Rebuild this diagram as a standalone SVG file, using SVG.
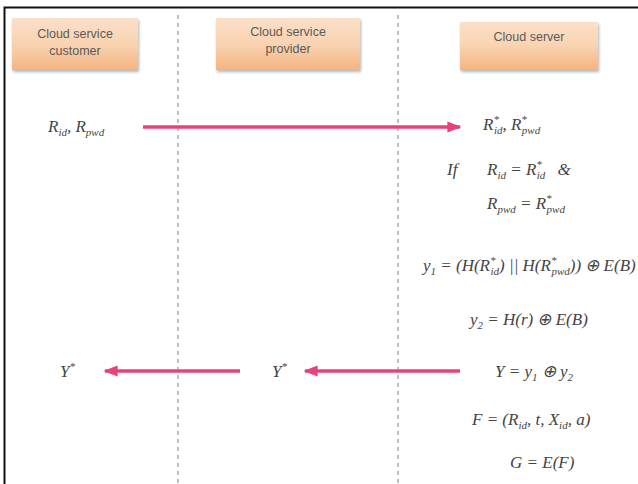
<svg xmlns="http://www.w3.org/2000/svg" width="638" height="484" viewBox="0 0 638 484">
<defs>
<linearGradient id="hdr" x1="0" y1="0" x2="0" y2="1">
<stop offset="0" stop-color="#fbe0c9"/>
<stop offset="0.5" stop-color="#f9d3b1"/>
<stop offset="1" stop-color="#f4b481"/>
</linearGradient>
<filter id="sh" x="-10%" y="-10%" width="130%" height="140%">
<feGaussianBlur in="SourceAlpha" stdDeviation="1.5"/>
<feOffset dx="1" dy="2" result="b"/>
<feComponentTransfer><feFuncA type="linear" slope="0.3"/></feComponentTransfer>
<feMerge><feMergeNode/><feMergeNode in="SourceGraphic"/></feMerge>
</filter>
<marker id="ah" viewBox="0 0 10 10" refX="9" refY="5" markerWidth="4" markerHeight="3.2" orient="auto" preserveAspectRatio="none">
<path d="M0,0 L10,5 L0,10 z" fill="#e8427e"/>
</marker>
</defs>
<style>
.hb{fill:url(#hdr);filter:url(#sh)}
.ht{font-family:"Liberation Sans",Arial,sans-serif;font-size:12.5px;fill:#5a5a5a;text-anchor:middle}
.m{font-family:"Liberation Serif","Times New Roman",serif;font-style:italic;font-size:17px;fill:#444}
.s{font-size:11px}
.life{stroke:#aaa;stroke-width:1.5;stroke-dasharray:4,4;fill:none}
.arr{stroke:#e8427e;stroke-width:3.5;fill:none;marker-end:url(#ah)}
</style>
<rect x="0" y="0" width="638" height="484" fill="#fff"/>
<path d="M4.5,484 V7.5 H638" fill="none" stroke="#111" stroke-width="2"/>

<g id="customer">
<rect class="hb" x="12" y="18" width="126" height="52"/>
<text class="ht" x="75" y="38">Cloud service</text>
<text class="ht" x="75" y="55">customer</text>
</g>
<g id="provider">
<rect class="hb" x="216" y="18" width="144" height="52"/>
<text class="ht" x="288" y="36">Cloud service</text>
<text class="ht" x="288" y="53">provider</text>
</g>
<g id="server">
<rect class="hb" x="460" y="22" width="138" height="48"/>
<text class="ht" x="529" y="41">Cloud server</text>
</g>

<g id="lifelines">
<line class="life" x1="178" y1="15" x2="178" y2="484"/>
<line class="life" x1="398" y1="15" x2="398" y2="484"/>
</g>

<g id="connectors">
<line class="arr" x1="143" y1="127" x2="460" y2="127"/>
<line class="arr" x1="460" y1="371" x2="305" y2="371"/>
<line class="arr" x1="240" y1="371" x2="105" y2="371"/>
</g>

<g id="labels">
<text class="m" x="48" y="132">R<tspan class="s" dy="4">id</tspan><tspan dy="-4">, R</tspan><tspan class="s" dy="4">pwd</tspan></text>
<text class="m" x="483" y="130">R<tspan class="s" dy="-7">*</tspan><tspan class="s" dx="-5" dy="11">id</tspan><tspan dy="-4">, R</tspan><tspan class="s" dy="-7">*</tspan><tspan class="s" dx="-5" dy="11">pwd</tspan></text>
<text class="m" x="447" y="175" font-style="normal">If</text>
<text class="m" x="487" y="175">R<tspan class="s" dy="4">id</tspan><tspan dy="-4"> = R</tspan><tspan class="s" dy="-7">*</tspan><tspan class="s" dx="-5" dy="11">id</tspan><tspan dy="-4" dx="12">&amp;</tspan></text>
<text class="m" x="487" y="209">R<tspan class="s" dy="4">pwd</tspan><tspan dy="-4"> = R</tspan><tspan class="s" dy="-7">*</tspan><tspan class="s" dx="-5" dy="11">pwd</tspan></text>
<text class="m" x="423" y="271">y<tspan class="s" dy="4">1</tspan><tspan dy="-4"> = (H(R</tspan><tspan class="s" dy="-7">*</tspan><tspan class="s" dx="-5" dy="11">id</tspan><tspan dy="-4">) || H(R</tspan><tspan class="s" dy="-7">*</tspan><tspan class="s" dx="-5" dy="11">pwd</tspan><tspan dy="-4">)) ⊕ E(B)</tspan></text>
<text class="m" x="470" y="325">y<tspan class="s" dy="4">2</tspan><tspan dy="-4"> = H(r) ⊕ E(B)</tspan></text>
<text class="m" x="60" y="377">Y<tspan class="s" dy="-7">*</tspan></text>
<text class="m" x="272" y="377">Y<tspan class="s" dy="-7">*</tspan></text>
<text class="m" x="495" y="377">Y = y<tspan class="s" dy="4">1</tspan><tspan dy="-4"> ⊕ y</tspan><tspan class="s" dy="4">2</tspan></text>
<text class="m" x="472" y="425" font-size="15">F = (R<tspan class="s" font-size="10" dy="4">id</tspan><tspan dy="-4">, t, X</tspan><tspan class="s" font-size="10" dy="4">id</tspan><tspan dy="-4">, a)</tspan></text>
<text class="m" x="510" y="468">G = E(F)</text>
</g>
</svg>
